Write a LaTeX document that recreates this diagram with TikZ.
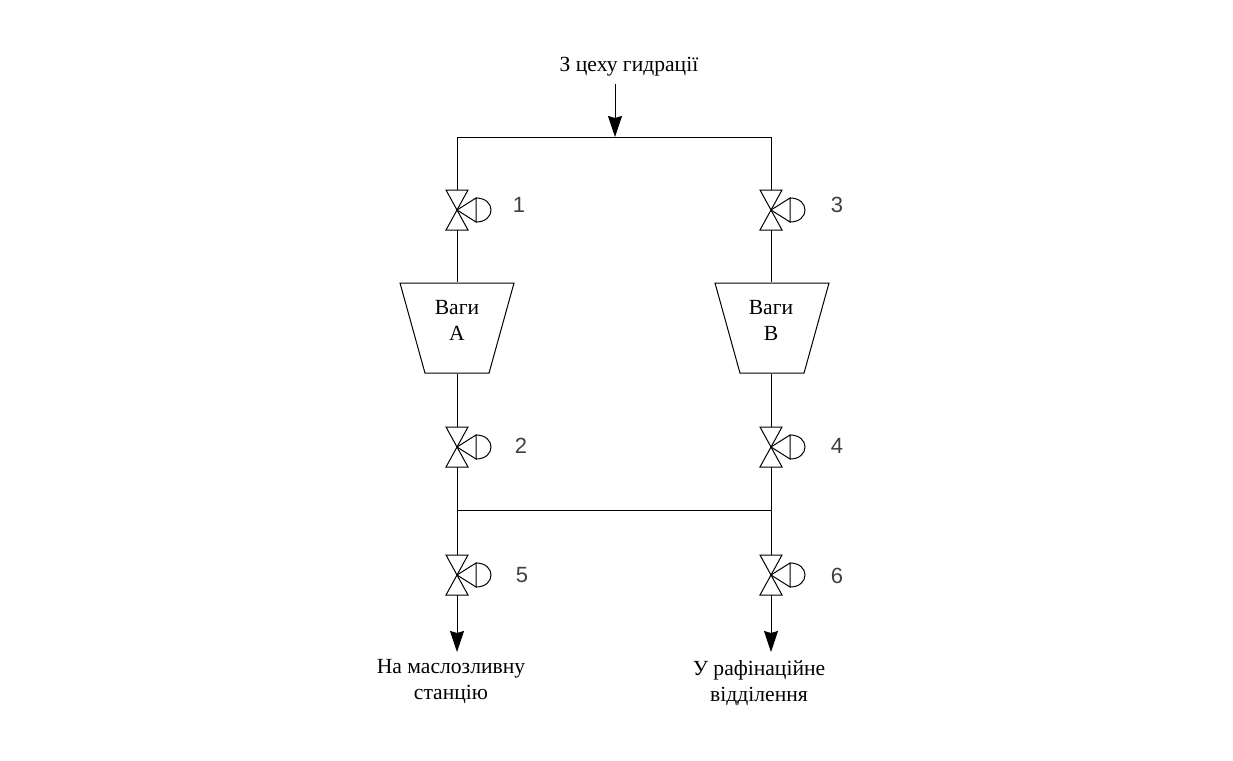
\documentclass[tikz,border=0pt]{standalone}
\usepackage{fontspec}
\setmainfont{Liberation Serif}
\newfontfamily\numfont{Liberation Sans}
\usetikzlibrary{arrows.meta,shapes.geometric}
\tikzset{
  pipe/.style={line width=1pt,black},
  flow/.style={pipe,-{Stealth[length=21pt,width=14pt,inset=2pt]}},
  caption/.style={font=\fontsize{21.6}{26}\selectfont,align=center,inner sep=0pt},
  number/.style={font=\numfont\fontsize{22}{22}\selectfont,inner sep=0pt,black!75},
  scalebox/.style={draw,pipe,trapezium,shape border rotate=180,trapezium angle=67,
    trapezium stretches=true,minimum width=114pt,minimum height=90pt,inner sep=0pt},
  valve/.pic={
    \draw [pipe] (-11,-20) -- (11,-20) -- (-11,20) -- (11,20) -- cycle;
    \draw [pipe] (19,-12) -- (0,0) -- (19,12) -- cycle;
    \draw [pipe] (19,-12) .. controls (39,-12) and (39,12) .. (19,12);
    \coordinate (-top) at (0,-20);
    \coordinate (-bot) at (0,20);
  }
}
\begin{document}
\begin{tikzpicture}[x=1pt,y=-1pt]
  \def\Xa{457}
  \def\Xb{771}
  \def\Xc{615}
  \def\Ytop{137}
  \def\Yone{210}
  \def\Ytwo{447}
  \def\Ythree{575}
  \def\Ylink{510}
  \useasboundingbox (0,0) rectangle (1233,760);

  % valves
  \pic (v1) at (\Xa,\Yone) {valve};
  \pic (v2) at (\Xa,\Ytwo) {valve};
  \pic (v5) at (\Xa,\Ythree) {valve};
  \pic (v3) at (\Xb,\Yone) {valve};
  \pic (v4) at (\Xb,\Ytwo) {valve};
  \pic (v6) at (\Xb,\Ythree) {valve};

  % scales
  \node [scalebox] (scaleA) at (\Xa,328) {\phantom{x}};
  \node [scalebox] (scaleB) at (\Xb+1,328) {\phantom{x}};

  % free ends and junctions
  \coordinate (feed) at (\Xc,84);
  \coordinate (joint) at (\Xc,\Ytop);
  \coordinate (linkA) at (\Xa,\Ylink);
  \coordinate (linkB) at (\Xb,\Ylink);
  \coordinate (outA) at (\Xa,652);
  \coordinate (outB) at (\Xb,652);

  % pipes
  \draw [pipe] (v1-top) -- (v1-top |- joint) -- (v3-top |- joint) -- (v3-top);
  \draw [pipe] (v1-bot) -- (v1-bot |- scaleA.north);
  \draw [pipe] (v3-bot) -- (v3-bot |- scaleB.north);
  \draw [pipe] (v2-top |- scaleA.south) -- (v2-top);
  \draw [pipe] (v4-top |- scaleB.south) -- (v4-top);
  \draw [pipe] (v2-bot) -- (v5-top);
  \draw [pipe] (v4-bot) -- (v6-top);
  \draw [pipe] (linkA) -- (linkB);

  % arrows
  \draw [flow] (feed) -- (joint);
  \draw [flow] (v5-bot) -- (outA);
  \draw [flow] (v6-bot) -- (outB);

  % labels
  \node [caption] (source) at (629,67) {З цеху гидрації};
  \node [caption] (textA) at (\Xa,320) {Ваги\\А};
  \node [caption] (textB) at (\Xb,320) {Ваги\\В};
  \node [caption] (targetA) at (451,682) {На маслозливну\\станцію};
  \node [caption] (targetB) at (759,683) {У рафінаційне\\відділення};
  \node [number] (n1) at (519,205) {1};
  \node [number] (n2) at (521,446) {2};
  \node [number] (n3) at (837,205) {3};
  \node [number] (n4) at (837,446) {4};
  \node [number] (n5) at (522,575) {5};
  \node [number] (n6) at (837,576) {6};
\end{tikzpicture}
\end{document}
